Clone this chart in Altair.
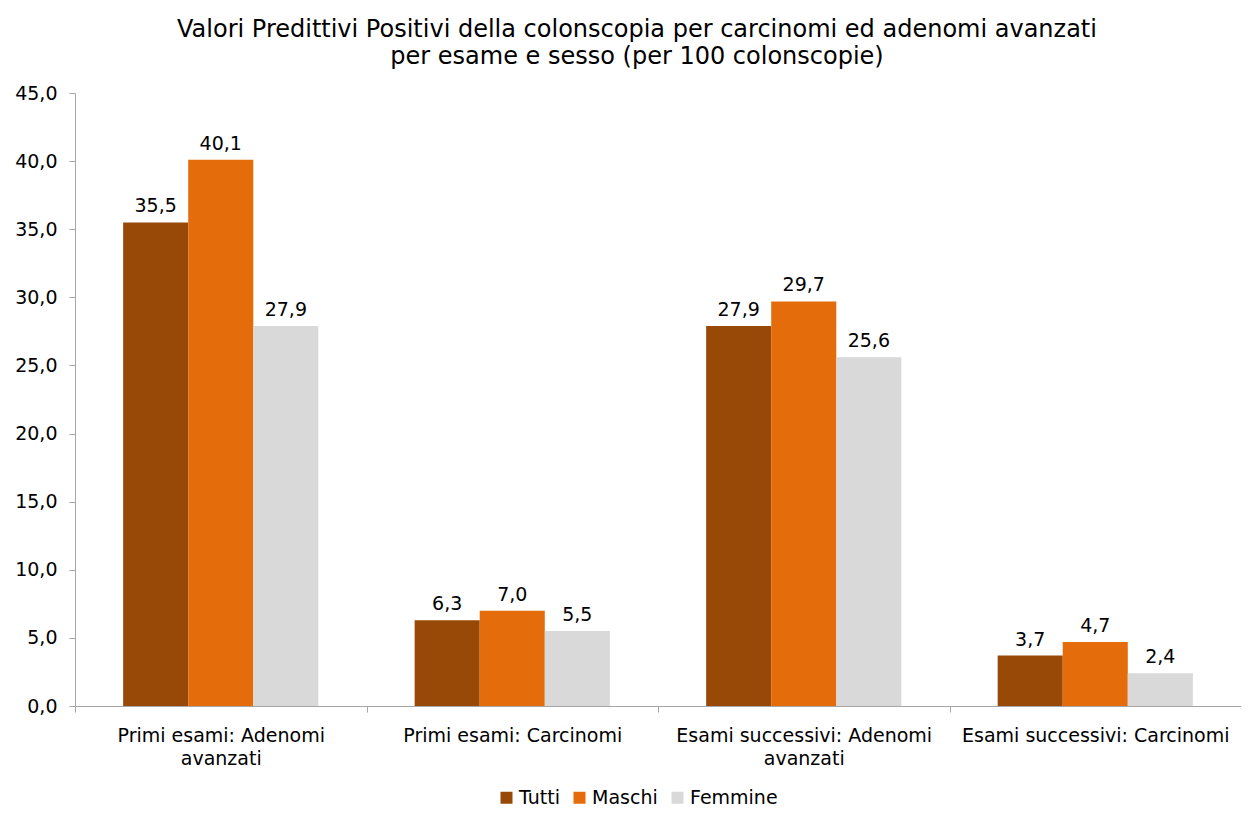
import altair as alt
import pandas as pd

categories = [
    "Primi esami: Adenomi avanzati",
    "Primi esami: Carcinomi",
    "Esami successivi: Adenomi avanzati",
    "Esami successivi: Carcinomi",
]
series = ["Tutti", "Maschi", "Femmine"]
tutti = [35.5, 6.3, 27.9, 3.7]
maschi = [40.1, 7.0, 29.7, 4.7]
femmine = [27.9, 5.5, 25.6, 2.4]
colors = ["#984807", "#E46C0A", "#D9D9D9"]
y_ticks = [0, 5, 10, 15, 20, 25, 30, 35, 40, 45]

rows = []
for s, vals in zip(series, [tutti, maschi, femmine]):
    for c, v in zip(categories, vals):
        rows.append({"cat": c, "serie": s, "val": v})
df = pd.DataFrame(rows)

FONT = "DejaVu Sans"
AXIS_GREY = "#A6A6A6"
FS = 19

x_enc = alt.X(
    "cat:N",
    sort=categories,
    title=None,
    scale=alt.Scale(paddingInner=0, paddingOuter=0),
    axis=alt.Axis(
        labelAngle=0,
        labelFontSize=FS,
        labelColor="#000000",
        labelFont=FONT,
        labelPadding=14,
        tickBand="extent",
        tickColor=AXIS_GREY,
        domainColor=AXIS_GREY,
        tickSize=6,
        labelLimit=400,
        labelLineHeight=23,
        grid=False,
        labelExpr="isValid(datum.value) ? split(replace(datum.value, 'Adenomi avanzati', 'Adenomi|avanzati'), '|') : ''",
    ),
)
y_enc = alt.Y(
    "val:Q",
    title=None,
    scale=alt.Scale(domain=[0, 45], nice=False),
    axis=alt.Axis(
        values=y_ticks,
        grid=False,
        labelFontSize=FS,
        labelColor="#000000",
        labelFont=FONT,
        labelPadding=12,
        tickColor=AXIS_GREY,
        domainColor=AXIS_GREY,
        tickSize=6,
        labelExpr="replace(format(datum.value, '.1f'), '.', ',')",
    ),
)
color_enc = alt.Color(
    "serie:N",
    sort=series,
    scale=alt.Scale(domain=series, range=colors),
    legend=alt.Legend(
        title=None,
        orient="none",
        legendX=422,
        legendY=695,
        direction="horizontal",
        symbolType="square",
        symbolSize=144,
        symbolStrokeWidth=0,
        labelFontSize=FS,
        labelFont=FONT,
        labelColor="#000000",
        labelOffset=3,
        columnPadding=10,
    ),
)
xoff = alt.XOffset(
    "serie:N", sort=series, scale=alt.Scale(paddingInner=0, paddingOuter=0.74)
)

base = alt.Chart(df).encode(x=x_enc, xOffset=xoff)

bars = base.mark_bar(strokeWidth=0).encode(y=y_enc, color=color_enc)
labels = (
    base.mark_text(dy=-16, fontSize=FS, font=FONT, color="#000000")
    .encode(y=y_enc, text=alt.Text("label:N"))
    .transform_calculate(label="replace(format(datum.val, '.1f'), '.', ',')")
)

chart = (
    alt.layer(bars, labels)
    .properties(
        width=1166,
        height=613,
        background="white",
        autosize=alt.AutoSizeParams(type="none"),
        padding={"left": 67, "top": 85, "right": 0, "bottom": 100},
        title=alt.TitleParams(
            [
                "Valori Predittivi Positivi della colonscopia per carcinomi ed adenomi avanzati",
                "per esame e sesso (per 100 colonscopie)",
            ],
            fontSize=24,
            fontWeight="normal",
            font=FONT,
            color="#000000",
            anchor="middle",
            frame="group",
            dx=-21,
            offset=15,
            lineHeight=27,
        ),
    )
    .configure_view(strokeWidth=0, stroke="transparent")
    .configure_axis(grid=False)
)

chart.save("out.html", embed_options={"renderer": "svg", "actions": False})
